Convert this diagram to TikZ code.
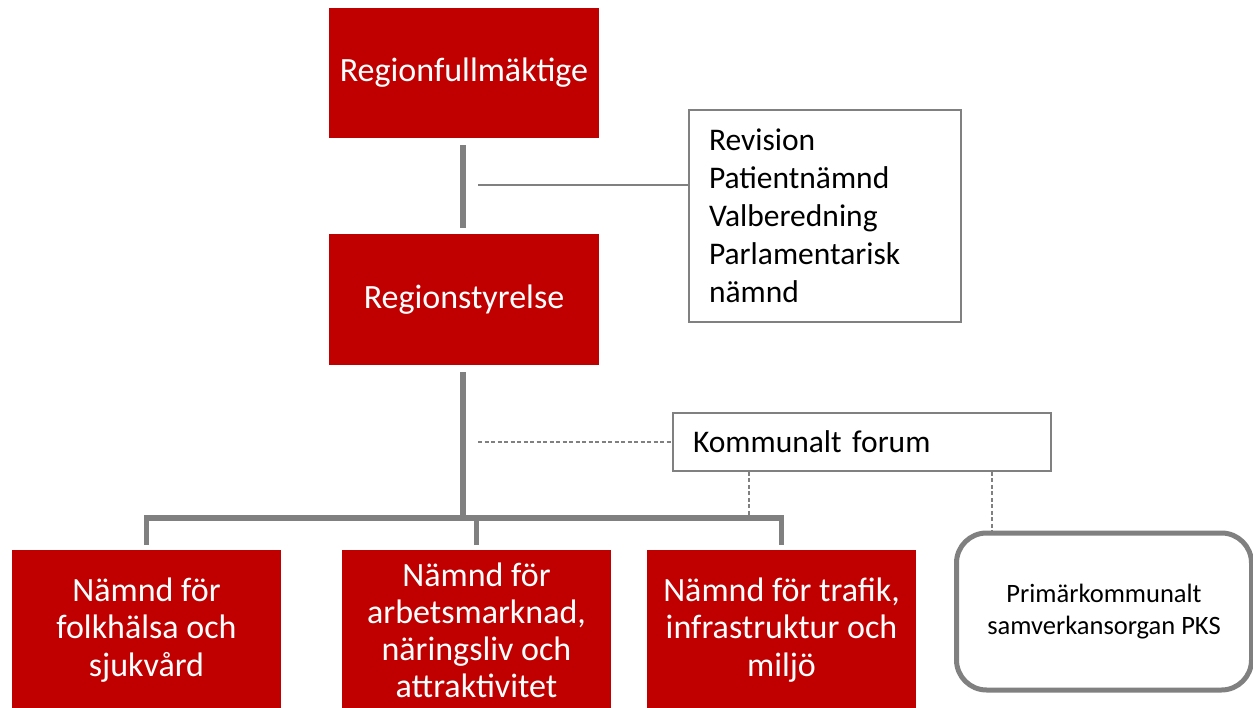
\documentclass[tikz,border=0pt]{standalone}
\usepackage{fontspec}
\setmainfont{Carlito}
\begin{document}
\begin{tikzpicture}[x=1pt,y=-1pt,
  redbox/.style={fill=boxred,text=white,inner sep=0pt,minimum width=270pt,align=center},
  thickline/.style={draw=linegray,line width=5.5pt},
  thinline/.style={draw=linegray,line width=1.8pt},
  dashline/.style={draw=linegray,line width=1.3pt,dash pattern=on 4pt off 2.5pt},
  fontA/.style={font=\fontsize{34}{40}\selectfont},
  fontB/.style={font=\fontsize{31.5}{38}\selectfont},
  fontC/.style={font=\fontsize{34}{37.5}\selectfont},
  fontD/.style={font=\fontsize{26.5}{32}\selectfont}]
\definecolor{boxred}{HTML}{C00000}
\definecolor{linegray}{HTML}{808080}
\useasboundingbox (0,0) rectangle (1253,708);
\begin{scope}
\clip (0,0) rectangle (1253,708);
% top boxes
\node[redbox,fontA,minimum height=130pt] (rf) at (464,73) {Regionfullmäktige};
\node[redbox,fontA,minimum height=131pt] (rs) at (464,299.5) {Regionstyrelse};
% revision box
\node[draw=linegray,line width=1.8pt,fill=white,fontB,text width=232pt,inner xsep=20pt,inner ysep=0pt,
      minimum height=212pt,align=left] (rev) at (825,216)
  {Revision\\Patientnämnd\\Valberedning\\Parlamentarisk\\nämnd};
% kommunalt forum
\node[draw=linegray,line width=1.8pt,fill=white,fontB,text width=338pt,inner xsep=20pt,inner ysep=0pt,
      minimum height=58pt,align=left] (kf) at (862,442) {Kommunalt forum};
% bottom boxes
\node[redbox,fontC,minimum width=269pt,minimum height=160pt] (b1) at (146.5,630)
  {Nämnd för\\folkhälsa och\\sjukvård};
\node[redbox,minimum width=269pt,minimum height=160pt,font=\fontsize{34}{37}\selectfont] (b2) at (476.5,630)
  {Nämnd för\\arbetsmarknad,\\näringsliv och\\attraktivitet};
\node[redbox,fontC,minimum width=269pt,minimum height=160pt] (b3) at (781.5,630)
  {Nämnd för trafik,\\infrastruktur och\\miljö};
% PKS
\node[draw=linegray,line width=5pt,fill=white,rounded corners=30pt,fontD,align=center,
      minimum width=295pt,minimum height=157pt] (pks) at (1104,611.5)
  {Primärkommunalt\\samverkansorgan PKS};
% connectors
\coordinate (bus) at (463,518);
\draw[thickline] ([yshift=-7pt]rf.south -| 463,0) -- ([yshift=6pt]rs.north -| 463,0);
\coordinate (t1) at (478,185);
\draw[thinline] (t1) -- (t1 -| rev.west);
\draw[thickline] ([yshift=-7pt]rs.south -| 463,0) -- (bus);
\draw[thickline] ([yshift=5pt]b1.north) -- (b1.north |- bus) -- (b3.north |- bus) -- ([yshift=5pt]b3.north);
\draw[thickline] (b2.north |- bus) -- ([yshift=5pt]b2.north);
\coordinate (t2) at (478,442);
\draw[dashline] (t2) -- (kf.west);
\coordinate (d1) at (749,0);
\draw[dashline] (kf.south -| d1) -- (bus -| d1);
\coordinate (d2) at (992,0);
\draw[dashline] (kf.south -| d2) -- (pks.north -| d2);
\end{scope}
\end{tikzpicture}
\end{document}
